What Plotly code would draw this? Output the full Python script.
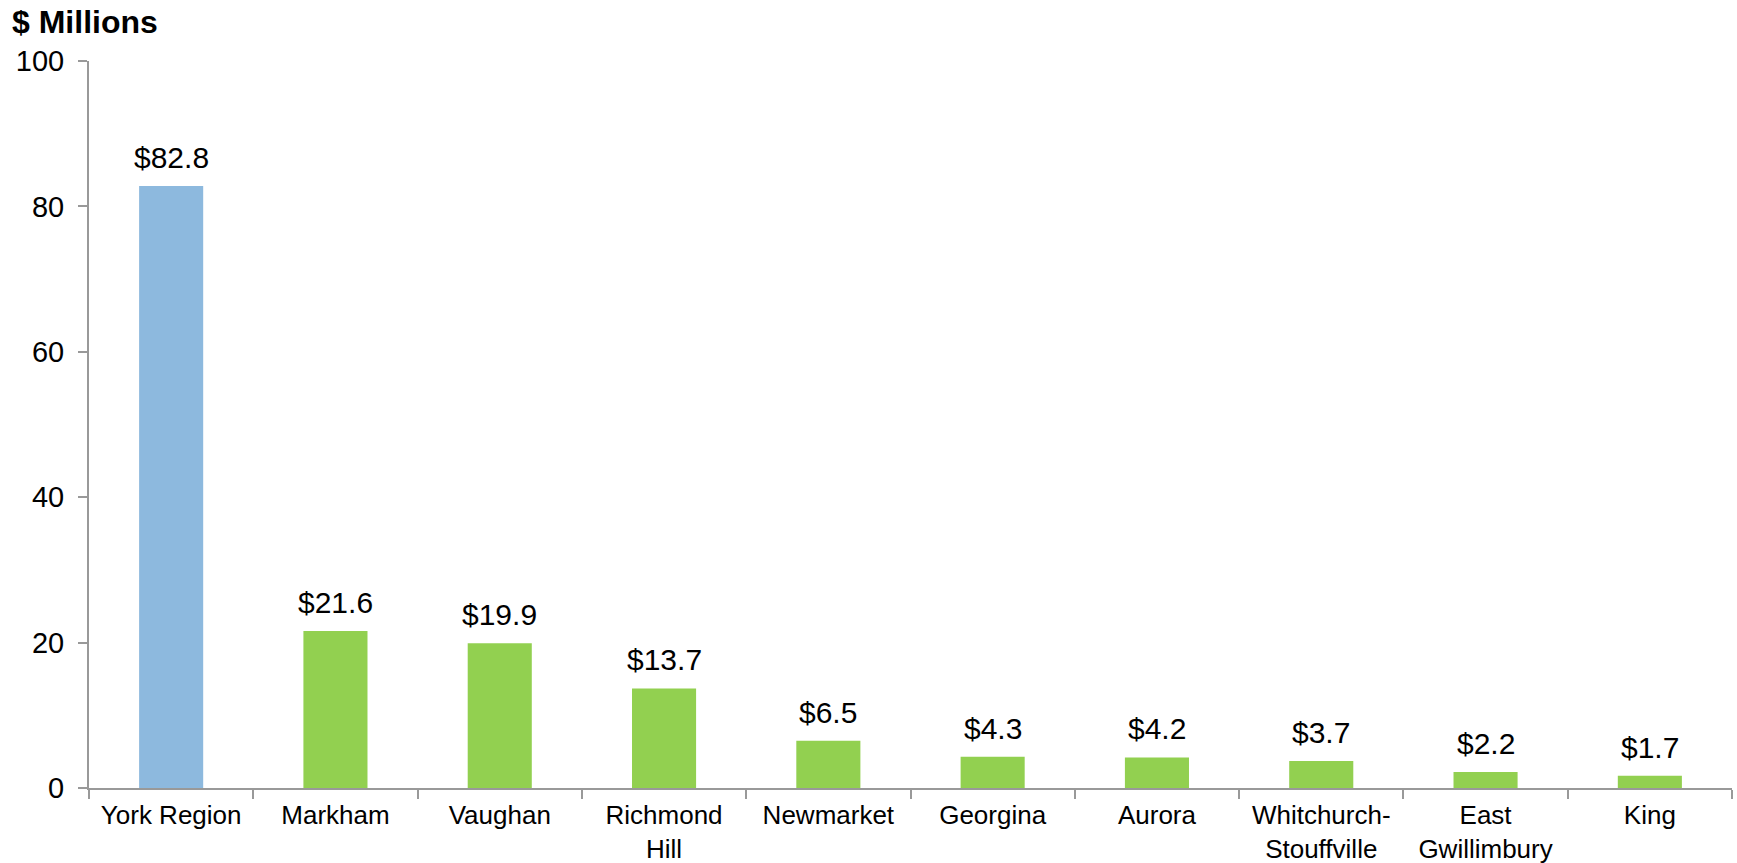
import plotly.graph_objects as go

categories = ["York Region", "Markham", "Vaughan", "Richmond<br>Hill", "Newmarket",
              "Georgina", "Aurora", "Whitchurch-<br>Stouffville", "East<br>Gwillimbury", "King"]
values = [82.8, 21.6, 19.9, 13.7, 6.5, 4.3, 4.2, 3.7, 2.2, 1.7]
labels = ["$82.8", "$21.6", "$19.9", "$13.7", "$6.5", "$4.3", "$4.2", "$3.7", "$2.2", "$1.7"]
bar_colors = ["#8DB9DE"] + ["#92D050"] * 9

FONT = "Arial, Liberation Sans, sans-serif"
AXIS = "#999999"

fig = go.Figure(go.Bar(
    x=categories, y=values, marker=dict(color=bar_colors, line=dict(width=0)),
    width=0.39, hoverinfo="skip",
))

for c, v, t in zip(categories, values, labels):
    fig.add_annotation(x=c, y=v, text=t, showarrow=False, yanchor="bottom",
                       yshift=10, font=dict(family=FONT, size=30, color="#000"))

fig.update_layout(
    width=1737, height=863,
    margin=dict(l=89, r=5, t=61, b=75, autoexpand=False),
    paper_bgcolor="white", plot_bgcolor="white",
    showlegend=False,
    title=dict(text="<b>$ Millions</b>", x=12/1737, xanchor="left", xref="container",
               y=1 - 22/863, yanchor="middle", yref="container",
               font=dict(family=FONT, size=32, color="#000")),
    font=dict(family=FONT, color="#000"),
)
fig.update_xaxes(
    automargin=False,
    showline=True, linecolor=AXIS, linewidth=2,
    ticks="outside", tickson="boundaries", ticklen=9, tickcolor=AXIS, tickwidth=2,
    ticklabelstandoff=3,
    tickfont=dict(family=FONT, size=26, color="#000"),
    showgrid=False, zeroline=False,
)
fig.update_yaxes(
    automargin=False,
    range=[0, 100], tickvals=[0, 20, 40, 60, 80, 100],
    showline=True, linecolor=AXIS, linewidth=2,
    ticks="outside", ticklen=9, tickcolor=AXIS, tickwidth=2,
    ticklabelstandoff=8,
    tickfont=dict(family=FONT, size=29, color="#000"),
    showgrid=False, zeroline=False,
)

fig.write_html("out.html", config={"displayModeBar": False},
               post_script="document.body.style.margin='0';document.body.style.overflow='hidden';")
